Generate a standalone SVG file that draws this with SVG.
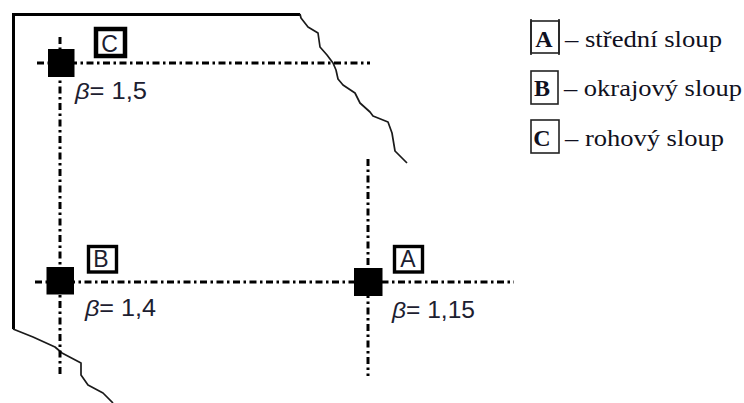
<svg xmlns="http://www.w3.org/2000/svg" width="744" height="403" viewBox="0 0 744 403">
<style>
.axis{fill:none;stroke:#000;stroke-width:3;stroke-dasharray:7 3.500 2.500 3.500}
.edge{fill:none;stroke:#1a1a1a;stroke-width:1.7;stroke-linejoin:round}
.wall{fill:none;stroke:#000;stroke-width:3}
.col{fill:#000}
.tag{fill:#fff;stroke:#000;stroke-width:3.400}
.lbox{fill:#fff;stroke:#222;stroke-width:1.6}
.sans{font-family:"Liberation Sans",Arial,sans-serif;font-size:23px;fill:#1c2030}
.tagt{font-family:"Liberation Sans",Arial,sans-serif;font-size:23px;fill:#1c2030;text-anchor:middle}
.greek{font-style:italic}
.ser{font-family:"Liberation Serif","Times New Roman",serif;font-size:24px;fill:#101020}
.serb{font-weight:bold;font-size:24px;font-family:"Liberation Serif","Times New Roman",serif;fill:#101020;text-anchor:middle}
</style>
<g id="outline">
<path class="wall" d="M300 14.500H13.500V329"/>
<path class="edge" d="M300 14 L301 18 L308 27 L318 33 L320 47 L327 55 L333 63 L336 70 L338 79 L343 85 L355 93 L360 103 L370 112 L373 116 L388 122 L392 133 L395 151 L407 163"/>
<path class="edge" d="M13 329 L33 337 L55 347 L62 353 L81 363 L81 375 L88 385 L103 393 L113 403"/>
</g>
<g id="connectors">
<path class="axis" d="M37 63H370"/>
<path class="axis" d="M60 37V377"/>
<path class="axis" d="M35 282H514"/>
<path class="axis" d="M368 159V376"/>
</g>
<g id="node-c">
<rect class="col" x="48" y="49" width="26.500" height="28"/>
<rect class="tag" x="96" y="29" width="29" height="27" style="stroke-width:4.500"/>
<text class="tagt" x="109.500" y="51.500">C</text>
<text class="sans" x="75" y="99" textLength="72" lengthAdjust="spacingAndGlyphs"><tspan class="greek">β</tspan>= 1,5</text>
</g>
<g id="node-b">
<rect class="col" x="46.500" y="267" width="27.500" height="27.500"/>
<rect class="tag" x="88.500" y="246.500" width="28" height="25.500"/>
<text class="tagt" x="101" y="267">B</text>
<text class="sans" x="85" y="316" textLength="71" lengthAdjust="spacingAndGlyphs"><tspan class="greek">β</tspan>= 1,4</text>
</g>
<g id="node-a">
<rect class="col" x="354" y="268" width="28.500" height="28"/>
<rect class="tag" x="394.500" y="246.500" width="28" height="25.500"/>
<text class="tagt" x="408" y="267">A</text>
<text class="sans" x="392" y="318" textLength="83" lengthAdjust="spacingAndGlyphs"><tspan class="greek">β</tspan>= 1,15</text>
</g>
<g id="legend-a">
<rect class="lbox" x="531" y="21" width="28" height="32"/>
<path class="lbox" d="M531 19V55M559 19V55"/>
<text class="serb" x="544" y="47">A</text>
<text class="ser" x="565" y="47" textLength="157" lengthAdjust="spacingAndGlyphs">– střední sloup</text>
</g>
<g id="legend-b">
<rect class="lbox" x="531" y="71" width="27" height="33"/>
<text class="serb" x="542" y="96">B</text>
<text class="ser" x="564" y="96" textLength="178" lengthAdjust="spacingAndGlyphs">– okrajový sloup</text>
</g>
<g id="legend-c">
<rect class="lbox" x="531" y="120" width="28" height="33"/>
<text class="serb" x="542" y="146">C</text>
<text class="ser" x="565" y="146" textLength="159" lengthAdjust="spacingAndGlyphs">– rohový sloup</text>
</g>
</svg>
